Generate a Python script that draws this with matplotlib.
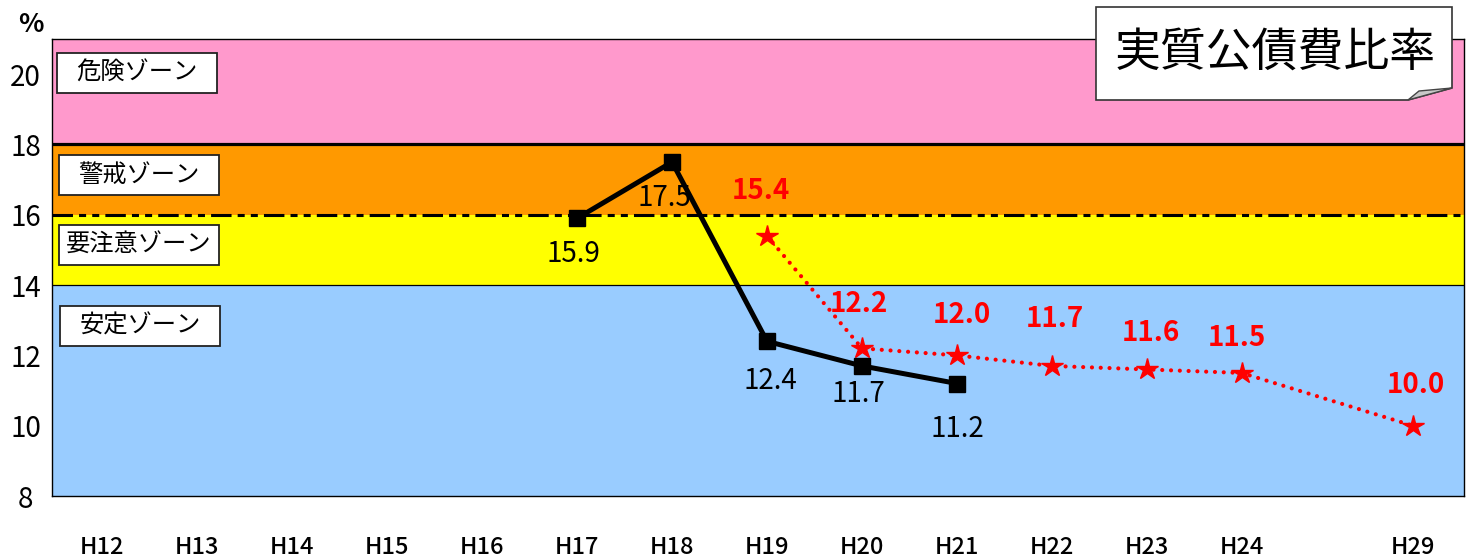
import matplotlib
matplotlib.use("Agg")
import matplotlib.pyplot as plt
from matplotlib.patches import Rectangle, Polygon

plt.rcParams['font.family'] = ['Noto Sans CJK JP', 'DejaVu Sans']

# ---------------- data ----------------
years = ['H12', 'H13', 'H14', 'H15', 'H16', 'H17', 'H18', 'H19', 'H20',
         'H21', 'H22', 'H23', 'H24', 'H29']
actual_years = ['H17', 'H18', 'H19', 'H20', 'H21']
actual_values = [15.9, 17.5, 12.4, 11.7, 11.2]
plan_years = ['H19', 'H20', 'H21', 'H22', 'H23', 'H24', 'H29']
plan_values = [15.4, 12.2, 12.0, 11.7, 11.6, 11.5, 10.0]
zone_names = ['危険ゾーン', '警戒ゾーン', '要注意ゾーン', '安定ゾーン']
zone_bounds = [8, 14, 16, 18, 21]
yticks = [8, 10, 12, 14, 16, 18, 20]
title = '実質公債費比率'

# ---------------- layout helpers ----------------
W, H = 1474, 560
gap_extra = 0.8  # extra spacing before the last (H29) category
xpos = {y: i + (gap_extra if y == 'H29' else 0) for i, y in enumerate(years)}

def fx(px):
    return px / W

def fy(py):
    return 1 - py / H

PT = 0.72  # px -> pt at dpi 100

fig = plt.figure(figsize=(W / 100, H / 100), dpi=100)
ax = fig.add_axes([fx(52), fy(496), fx(1464) - fx(52), fy(39) - fy(496)])
ax.set_ylim(zone_bounds[0], zone_bounds[-1])
ax.set_xlim(-0.53, 14.34)

# bands
band_colors = ['#99CCFF', '#FFFF00', '#FF9900', '#FF99CC']
for lo, hi, c in zip(zone_bounds[:-1], zone_bounds[1:], band_colors):
    ax.axhspan(lo, hi, color=c, lw=0, zorder=0)
ax.axhline(zone_bounds[3], color='black', lw=2.3, zorder=1)
ax.axhline(zone_bounds[2], color='black', lw=2.2, zorder=1,
           dashes=(6.7, 2, 2.3, 2, 2.3, 2))
ax.axhline(zone_bounds[1], color='black', lw=0.9, zorder=1)

# plan (red dotted with stars)
px_plan = [xpos[y] for y in plan_years]
ax.plot(px_plan, plan_values, color='#FF0000', lw=3.0,
        linestyle=(0, (0.01, 2.1)), dash_capstyle='round', zorder=3)
ax.plot(px_plan, plan_values, linestyle='none', marker='*', ms=16,
        color='#FF0000', mec='#FF0000', zorder=4)

# actual (black with squares)
px_act = [xpos[y] for y in actual_years]
ax.plot(px_act, actual_values, color='black', lw=3.6, marker='s', ms=11.5,
        zorder=5, solid_joinstyle='miter')

# labels
act_off = [(-4, -36), (-8, -36), (3, -40), (-4, -28), (0, -45)]
for x, v, (dx, dy) in zip(px_act, actual_values, act_off):
    ax.annotate(f'{v:.1f}', (x, v), xytext=(dx * PT, dy * PT),
                textcoords='offset points', ha='center', va='center',
                fontsize=20, color='black', zorder=6)
plan_off = [(-6, 45), (-3, 44), (5, 40), (3, 47), (4, 36), (-5, 35), (3, 41)]
for x, v, (dx, dy) in zip(px_plan, plan_values, plan_off):
    ax.annotate(f'{v:.1f}', (x, v), xytext=(dx * PT, dy * PT),
                textcoords='offset points', ha='center', va='center',
                fontsize=20, fontweight='bold', color='#FF0000', zorder=6)

# axes styling
ax.set_xticks([xpos[y] for y in years])
ax.set_xticklabels(years, fontsize=17, fontweight='medium')
ax.set_yticks(yticks)
ax.set_yticklabels([str(t) for t in yticks], fontsize=20)
ax.tick_params(axis='x', length=0, pad=29)
ax.tick_params(axis='y', length=0, pad=19)
for lab in ax.get_yticklabels():
    lab.set_horizontalalignment('center')
for s in ax.spines.values():
    s.set_linewidth(1.0)
    s.set_color('black')
    s.set_zorder(7)

fig.text(fx(31), fy(25), '%', fontsize=19, fontweight='bold',
         ha='center', va='center')

# zone label boxes
box_rects = [(57, 53), (59, 155), (59, 225), (60, 306)]
for name, (bx, by) in zip(zone_names, box_rects):
    fig.add_artist(Rectangle((fx(bx), fy(by + 40)), fx(160), 40 / H,
                             transform=fig.transFigure, facecolor='white',
                             edgecolor='#222222', lw=1.3, zorder=8))
    fig.text(fx(bx + 80), fy(by + 20), name, fontsize=17.5, ha='center',
             va='center', zorder=9)

# title callout
poly = [(1096, 7), (1452, 7), (1452, 88), (1408, 100), (1096, 100)]
fig.add_artist(Polygon([(fx(a), fy(b)) for a, b in poly], closed=True,
                       transform=fig.transFigure, facecolor='white',
                       edgecolor='#333333', lw=1.2, zorder=8))
fold = [(1408, 100), (1419, 91), (1452, 88)]
fig.add_artist(Polygon([(fx(a), fy(b)) for a, b in fold], closed=True,
                       transform=fig.transFigure, facecolor='#C8C8C8',
                       edgecolor='#444444', lw=1.0, zorder=9))
fig.text(fx(1275), fy(52), title, fontsize=33, ha='center', va='center',
         zorder=10)

fig.savefig('out.png', dpi=100)
